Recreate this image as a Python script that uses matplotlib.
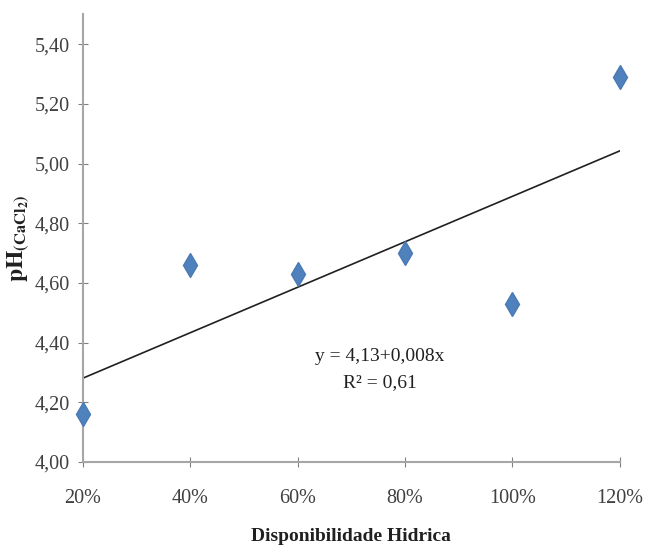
import numpy as np
import matplotlib
matplotlib.use("Agg")
import matplotlib.pyplot as plt
from matplotlib.ticker import FuncFormatter

# Data
water_pct = [20, 40, 60, 80, 100, 120]
ph_values = [4.16, 4.66, 4.63, 4.70, 4.53, 5.29]
y_ticks = [4.00, 4.20, 4.40, 4.60, 4.80, 5.00, 5.20, 5.40]
x_ticks = [20, 40, 60, 80, 100, 120]
equation = "y = 4,13+0,008x"
r2_text = "R² = 0,61"

plt.rcParams['font.family'] = ['Liberation Serif', 'DejaVu Serif']
plt.rcParams['mathtext.fontset'] = 'stix'

fig = plt.figure(figsize=(6.45, 5.49), dpi=100)
ax = fig.add_axes([0.1287, 0.1585, 0.8323, 0.8155])

ax.plot(water_pct, ph_values, linestyle='none', marker='d', markersize=12,
        color='#4F81BD', markeredgecolor='#4A7AB5', zorder=3, clip_on=False)

coef = np.polyfit(water_pct, ph_values, 1)
xl = np.array([water_pct[0], water_pct[-1]])
ax.plot(xl, np.polyval(coef, xl), color='#202020', linewidth=1.2, zorder=2)

ax.set_xlim(20, 120)
ax.set_ylim(4.0, 5.5)
ax.set_xticks(x_ticks)
ax.set_yticks(y_ticks)
ax.xaxis.set_major_formatter(FuncFormatter(lambda v, p: f"{int(round(v))}%"))
ax.yaxis.set_major_formatter(FuncFormatter(lambda v, p: f"{v:.2f}".replace('.', ',')))

for s in ['top', 'right']:
    ax.spines[s].set_visible(False)
for s in ['left', 'bottom']:
    ax.spines[s].set_color('#A6A6A6')
    ax.spines[s].set_linewidth(1.5)
ax.tick_params(axis='both', which='major', direction='inout', length=7,
               color='#808080', labelsize=14.5, labelcolor='#404040', pad=6)
ax.tick_params(axis='x', pad=16)

ax.set_xlabel("Disponibilidade Hidrica", fontsize=14, fontweight='bold',
              color='#202020', labelpad=14)
ax.set_ylabel(r'$\mathbf{pH}_{\mathbf{(CaCl_2)}}$', fontsize=17, color='#202020',
              labelpad=2)

ax.text(75.3, 4.355, equation, fontsize=14, ha='center', va='center', color='#202020')
ax.text(75.3, 4.265, r2_text, fontsize=14, ha='center', va='center', color='#202020')

fig.savefig("out.png", dpi=100)
